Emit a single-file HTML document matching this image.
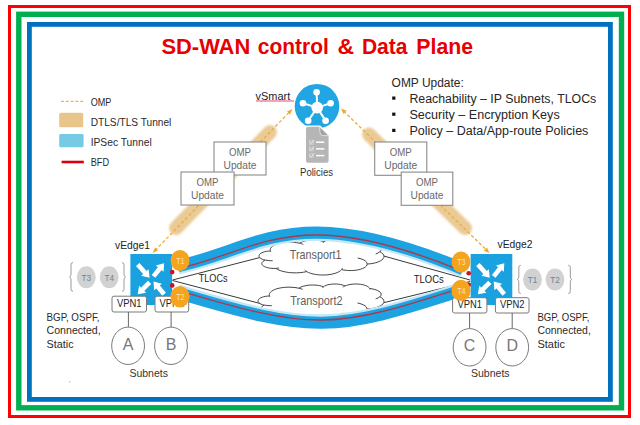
<!DOCTYPE html>
<html><head><meta charset="utf-8"><title>SD-WAN control &amp; Data Plane</title>
<style>html,body{margin:0;padding:0;background:#fff;width:640px;height:425px;overflow:hidden}svg{display:block;font-family:"Liberation Sans",sans-serif}</style>
</head><body>
<svg width="640" height="425" viewBox="0 0 640 425">
<defs>
<filter id="bl1" x="-20%" y="-20%" width="140%" height="140%"><feGaussianBlur stdDeviation="0.5"/></filter>
<filter id="bl2" x="-20%" y="-20%" width="140%" height="140%"><feGaussianBlur stdDeviation="1.1"/></filter>
</defs>
<rect width="640" height="425" fill="#fff"/>
<rect x="9.5" y="6.5" width="620" height="410" fill="none" stroke="#ff0000" stroke-width="3"/>
<rect x="18.8" y="14.3" width="602.7" height="393.5" fill="none" stroke="#00b050" stroke-width="5.4"/>
<rect x="29.4" y="24.4" width="581" height="375" fill="none" stroke="#0070c0" stroke-width="4.8"/>
<text x="161.4" y="54.2" font-size="21.3" fill="#e80000" font-weight="bold" text-anchor="start" font-family="Liberation Sans" textLength="88.9" lengthAdjust="spacingAndGlyphs">SD-WAN</text>
<text x="257.8" y="54.2" font-size="21.3" fill="#e80000" font-weight="bold" text-anchor="start" font-family="Liberation Sans" textLength="70.95" lengthAdjust="spacingAndGlyphs">control</text>
<text x="337.4" y="54.2" font-size="21.3" fill="#e80000" font-weight="bold" text-anchor="start" font-family="Liberation Sans" textLength="16.6" lengthAdjust="spacingAndGlyphs">&amp;</text>
<text x="361.9" y="54.2" font-size="21.3" fill="#e80000" font-weight="bold" text-anchor="start" font-family="Liberation Sans" textLength="45.6" lengthAdjust="spacingAndGlyphs">Data</text>
<text x="416.3" y="54.2" font-size="21.3" fill="#e80000" font-weight="bold" text-anchor="start" font-family="Liberation Sans" textLength="56.8" lengthAdjust="spacingAndGlyphs">Plane</text>
<line x1="61" y1="101.4" x2="84" y2="101.4" stroke="#f3b54a" stroke-width="1.3" stroke-dasharray="3 1.8"/>
<text x="90.7" y="105.6" font-size="10.2" fill="#2a2a2a" font-weight="normal" text-anchor="start" font-family="Liberation Sans" textLength="20.7" lengthAdjust="spacingAndGlyphs">OMP</text>
<rect x="59.2" y="112.7" width="24" height="14.6" rx="1.5" fill="#e8c58a" filter="url(#bl1)"/>
<text x="90.7" y="125.6" font-size="10.2" fill="#2a2a2a" font-weight="normal" text-anchor="start" font-family="Liberation Sans" textLength="80.7" lengthAdjust="spacingAndGlyphs">DTLS/TLS Tunnel</text>
<rect x="59.2" y="134" width="24.4" height="13.3" rx="1.5" fill="#77cae3" filter="url(#bl1)"/>
<text x="90.7" y="146" font-size="10.2" fill="#2a2a2a" font-weight="normal" text-anchor="start" font-family="Liberation Sans" textLength="61" lengthAdjust="spacingAndGlyphs">IPSec Tunnel</text>
<line x1="61.6" y1="162" x2="83.8" y2="162" stroke="#d80010" stroke-width="2.6"/>
<text x="90.7" y="165.6" font-size="10.2" fill="#2a2a2a" font-weight="normal" text-anchor="start" font-family="Liberation Sans" textLength="18.3" lengthAdjust="spacingAndGlyphs">BFD</text>
<text x="391.6" y="86.5" font-size="12" fill="#262626" font-weight="normal" text-anchor="start" font-family="Liberation Sans" textLength="72.2" lengthAdjust="spacingAndGlyphs">OMP Update:</text>
<rect x="392.2" y="96.5" width="3.2" height="3.2" fill="#111"/>
<text x="409.4" y="102.5" font-size="12" fill="#262626" font-weight="normal" text-anchor="start" font-family="Liberation Sans" textLength="186.9" lengthAdjust="spacingAndGlyphs">Reachability – IP Subnets, TLOCs</text>
<rect x="392.2" y="112.6" width="3.2" height="3.2" fill="#111"/>
<text x="409.4" y="118.6" font-size="12" fill="#262626" font-weight="normal" text-anchor="start" font-family="Liberation Sans" textLength="150.3" lengthAdjust="spacingAndGlyphs">Security – Encryption Keys</text>
<rect x="392.2" y="128.8" width="3.2" height="3.2" fill="#111"/>
<text x="409.4" y="134.8" font-size="12" fill="#262626" font-weight="normal" text-anchor="start" font-family="Liberation Sans" textLength="179" lengthAdjust="spacingAndGlyphs">Policy – Data/App-route Policies</text>
<g filter="url(#bl2)" opacity="0.9">
<line x1="176" y1="228" x2="270" y2="132" stroke="#e8c58a" stroke-width="14" stroke-linecap="round"/>
<line x1="369" y1="134.5" x2="465" y2="228" stroke="#e8c58a" stroke-width="14" stroke-linecap="round"/>
</g>
<line x1="155" y1="250.5" x2="290" y2="111.5" stroke="#eeaa38" stroke-width="1.25" stroke-dasharray="3.2 2.2"/>
<line x1="343.5" y1="111" x2="487" y2="250.5" stroke="#eeaa38" stroke-width="1.25" stroke-dasharray="3.2 2.2"/>
<polygon points="152.7,252.9 154.94,247.42 158.1,250.47" fill="#eda632"/>
<polygon points="292.4,109.1 290.14,114.58 286.99,111.51" fill="#eda632"/>
<polygon points="341.1,108.6 346.58,110.86 343.51,114.01" fill="#eda632"/>
<polygon points="489.4,252.9 483.93,250.64 487,247.49" fill="#eda632"/>
<rect x="214" y="142" width="52" height="33" fill="#fff" stroke="#8a8a8a" stroke-width="1.1"/><text x="240" y="155.7" font-size="10.5" fill="#6a6a6a" font-weight="normal" text-anchor="middle" font-family="Liberation Sans" textLength="22" lengthAdjust="spacingAndGlyphs">OMP</text><text x="240" y="169" font-size="10.5" fill="#6a6a6a" font-weight="normal" text-anchor="middle" font-family="Liberation Sans" textLength="33" lengthAdjust="spacingAndGlyphs">Update</text>
<rect x="181" y="172" width="53" height="33" fill="#fff" stroke="#8a8a8a" stroke-width="1.1"/><text x="207.5" y="185.7" font-size="10.5" fill="#6a6a6a" font-weight="normal" text-anchor="middle" font-family="Liberation Sans" textLength="22" lengthAdjust="spacingAndGlyphs">OMP</text><text x="207.5" y="199" font-size="10.5" fill="#6a6a6a" font-weight="normal" text-anchor="middle" font-family="Liberation Sans" textLength="33" lengthAdjust="spacingAndGlyphs">Update</text>
<rect x="374.7" y="142" width="52.1" height="33.3" fill="#fff" stroke="#8a8a8a" stroke-width="1.1"/><text x="400.75" y="155.7" font-size="10.5" fill="#6a6a6a" font-weight="normal" text-anchor="middle" font-family="Liberation Sans" textLength="22" lengthAdjust="spacingAndGlyphs">OMP</text><text x="400.75" y="169" font-size="10.5" fill="#6a6a6a" font-weight="normal" text-anchor="middle" font-family="Liberation Sans" textLength="33" lengthAdjust="spacingAndGlyphs">Update</text>
<rect x="401.2" y="172.1" width="51.6" height="33.2" fill="#fff" stroke="#8a8a8a" stroke-width="1.1"/><text x="427" y="185.8" font-size="10.5" fill="#6a6a6a" font-weight="normal" text-anchor="middle" font-family="Liberation Sans" textLength="22" lengthAdjust="spacingAndGlyphs">OMP</text><text x="427" y="199.1" font-size="10.5" fill="#6a6a6a" font-weight="normal" text-anchor="middle" font-family="Liberation Sans" textLength="33" lengthAdjust="spacingAndGlyphs">Update</text>
<circle cx="317" cy="106.2" r="22.3" fill="#21a6e3"/>
<line x1="317.2" y1="107.6" x2="316.6" y2="92.3" stroke="#fff" stroke-width="2"/>
<circle cx="316.6" cy="92.3" r="3.3" fill="#fff"/>
<line x1="317.2" y1="107.6" x2="303" y2="103.3" stroke="#fff" stroke-width="2"/>
<circle cx="303" cy="103.3" r="3.3" fill="#fff"/>
<line x1="317.2" y1="107.6" x2="330.6" y2="103.3" stroke="#fff" stroke-width="2"/>
<circle cx="330.6" cy="103.3" r="3.3" fill="#fff"/>
<line x1="317.2" y1="107.6" x2="308.2" y2="120.8" stroke="#fff" stroke-width="2"/>
<circle cx="308.2" cy="120.8" r="3.3" fill="#fff"/>
<line x1="317.2" y1="107.6" x2="325.6" y2="120.8" stroke="#fff" stroke-width="2"/>
<circle cx="325.6" cy="120.8" r="3.3" fill="#fff"/>
<circle cx="317.2" cy="107.6" r="5.8" fill="#fff"/>
<text x="255.5" y="99.5" font-size="11" fill="#222" font-weight="normal" text-anchor="start" font-family="Liberation Sans" textLength="34.7" lengthAdjust="spacingAndGlyphs">vSmart</text>
<path d="M256 101.4 l1 -0.8 l1 0.8 l1 -0.8 l1 0.8 l1 -0.8 l1 0.8 l1 -0.8 l1 0.8 l1 -0.8 l1 0.8 l1 -0.8 l1 0.8 l1 -0.8 l1 0.8 l1 -0.8 l1 0.8 l1 -0.8 l1 0.8 l1 -0.8 l1 0.8 l1 -0.8 l1 0.8 l1 -0.8 l1 0.8 l1 -0.8 l1 0.8 l1 -0.8 l1 0.8 l1 -0.8 l1 0.8 l1 -0.8 l1 0.8 l1 -0.8 l1 0.8 l1 -0.8 l1 0.8 l1 -0.8 l1 0.8" fill="none" stroke="#e03a55" stroke-width="0.9"/>
<path d="M308 126.8 H319.6 L328.6 135.6 V160.7 Q328.6 162.7 326.6 162.7 H308 Q306 162.7 306 160.7 V128.8 Q306 126.8 308 126.8 Z" fill="#fff" stroke="#fff" stroke-width="2.6"/>
<path d="M308 126.8 H319.6 L328.6 135.6 V160.7 Q328.6 162.7 326.6 162.7 H308 Q306 162.7 306 160.7 V128.8 Q306 126.8 308 126.8 Z" fill="#b6b6b6"/>
<path d="M319.6 126.8 Q319.8 134 321 135 Q322 135.8 328.6 135.6 Z" fill="#a2a2a2" stroke="#f4f4f4" stroke-width="0.7"/>
<line x1="316" y1="142.2" x2="324.3" y2="142.2" stroke="#fff" stroke-width="1.5"/>
<path d="M310 141.9 l1.4 1.6 l2.6 -3.4" fill="none" stroke="#f2f2f2" stroke-width="0.9"/>
<rect x="309.6" y="140.4" width="3.8" height="3.8" fill="none" stroke="#dcdcdc" stroke-width="0.6"/>
<line x1="316" y1="148.9" x2="324.3" y2="148.9" stroke="#fff" stroke-width="1.5"/>
<path d="M310 148.6 l1.4 1.6 l2.6 -3.4" fill="none" stroke="#f2f2f2" stroke-width="0.9"/>
<rect x="309.6" y="147.1" width="3.8" height="3.8" fill="none" stroke="#dcdcdc" stroke-width="0.6"/>
<line x1="316" y1="155.6" x2="324.3" y2="155.6" stroke="#fff" stroke-width="1.5"/>
<path d="M310 155.3 l1.4 1.6 l2.6 -3.4" fill="none" stroke="#f2f2f2" stroke-width="0.9"/>
<rect x="309.6" y="153.8" width="3.8" height="3.8" fill="none" stroke="#dcdcdc" stroke-width="0.6"/>
<text x="300" y="175.7" font-size="10.5" fill="#333" font-weight="normal" text-anchor="start" font-family="Liberation Sans" textLength="33" lengthAdjust="spacingAndGlyphs">Policies</text>
<path d="M172.5 280 L260 257.5" stroke="#3a3a3a" stroke-width="1" fill="none"/>
<path d="M172.5 280.5 L262 304" stroke="#3a3a3a" stroke-width="1" fill="none"/>
<path d="M470 280 L383.3 255.9" stroke="#3a3a3a" stroke-width="1" fill="none"/>
<path d="M470 281.5 L383.3 302.8" stroke="#3a3a3a" stroke-width="1" fill="none"/>
<path d="M270.36 250.86 L270.18 249.64 L270.51 248.42 L271.32 247.24 L272.6 246.13 L274.32 245.11 L276.42 244.21 L278.87 243.45 L281.59 242.86 L284.52 242.44 L287.57 242.21 L290.69 242.18 L293.77 242.34 L296.76 242.69 L299.56 243.22 L300.84 242.43 L302.42 241.72 L304.25 241.12 L306.3 240.64 L308.51 240.29 L310.83 240.07 L313.21 240 L315.59 240.08 L317.91 240.3 L320.12 240.65 L322.16 241.14 L323.99 241.74 L325 241.08 L326.26 240.49 L327.74 239.98 L329.4 239.57 L331.21 239.26 L333.11 239.07 L335.07 239 L337.03 239.05 L338.95 239.21 L340.78 239.5 L342.48 239.89 L344 240.37 L345.31 240.95 L346.79 240.36 L348.49 239.87 L350.35 239.48 L352.34 239.2 L354.42 239.04 L356.53 239.01 L358.63 239.1 L360.67 239.32 L362.61 239.65 L364.39 240.09 L365.99 240.63 L367.36 241.26 L368.47 241.97 L369.3 242.73 L369.83 243.53 L372.09 243.85 L374.19 244.3 L376.09 244.87 L377.74 245.55 L379.1 246.33 L380.14 247.17 L380.84 248.07 L381.17 249.01 L381.13 249.95 L380.72 250.88 L379.95 251.77 L381.65 252.8 L382.92 253.93 L383.71 255.12 L384 256.34 L383.79 257.57 L383.09 258.77 L381.9 259.91 L380.27 260.96 L378.24 261.89 L375.84 262.69 L373.16 263.33 L370.25 263.78 L367.19 264.06 L366.98 265.04 L366.39 266.01 L365.44 266.93 L364.14 267.78 L362.53 268.55 L360.64 269.21 L358.52 269.75 L356.22 270.16 L353.78 270.43 L351.27 270.55 L348.74 270.52 L346.25 270.35 L343.86 270.03 L341.62 269.57 L340.56 270.64 L339.1 271.65 L337.28 272.55 L335.13 273.34 L332.7 273.99 L330.06 274.49 L327.25 274.83 L324.35 275 L321.42 275 L318.51 274.82 L315.71 274.47 L313.08 273.97 L310.66 273.31 L308.53 272.52 L306.72 271.61 L303.54 272.23 L300.15 272.65 L296.64 272.85 L293.09 272.82 L289.6 272.58 L286.25 272.12 L283.12 271.46 L280.31 270.61 L277.86 269.6 L275.86 268.45 L273.94 268.48 L272.03 268.39 L270.18 268.2 L268.43 267.89 L266.81 267.49 L265.37 266.99 L264.14 266.41 L263.14 265.77 L262.41 265.08 L261.96 264.35 L261.79 263.6 L261.92 262.85 L262.33 262.11 L263.03 261.41 L263.99 260.76 L265.19 260.18 L263.58 259.73 L262.16 259.19 L260.97 258.58 L260.04 257.89 L259.39 257.16 L259.04 256.4 L259 255.62 L259.26 254.85 L259.83 254.11 L260.68 253.41 L261.8 252.77 L263.16 252.21 L264.73 251.74 L266.46 251.37 L268.31 251.11 L270.25 250.97 Z" fill="#fff" stroke="#444" stroke-width="1"/>
<path d="M272.65 260.7 L270.74 260.7 L268.86 260.59 L267.04 260.37 L265.33 260.04 M279.11 267.97 L278.33 268.08 L277.53 268.17 L276.72 268.24 L275.9 268.29 M306.71 271.46 L306.15 271.12 L305.65 270.76 L305.19 270.39 L304.78 270.01 M342.4 267.85 L342.29 268.25 L342.12 268.65 L341.9 269.05 L341.63 269.44 M357.73 258.01 L360.04 258.55 L362.1 259.22 L363.86 260.02 L365.28 260.91 L366.31 261.89 L366.93 262.91 L367.12 263.96 M379.89 251.68 L379.1 252.3 L378.13 252.89 L376.99 253.43 L375.71 253.91 M369.85 243.4 L369.95 243.67 L370.03 243.93 L370.06 244.19 L370.07 244.46 M343.13 242.18 L343.57 241.82 L344.07 241.47 L344.64 241.14 L345.27 240.83 M323.08 242.82 L323.27 242.52 L323.5 242.22 L323.79 241.94 L324.12 241.66 M299.55 243.21 L300.55 243.46 L301.51 243.73 L302.43 244.02 L303.3 244.33 M271.01 252.04 L270.8 251.75 L270.62 251.46 L270.47 251.16 L270.36 250.86" fill="none" stroke="#444" stroke-width="1"/>
<path d="M269.45 295.86 L269.27 294.64 L269.6 293.42 L270.42 292.24 L271.71 291.13 L273.44 290.11 L275.56 289.21 L278.03 288.45 L280.77 287.86 L283.72 287.44 L286.8 287.21 L289.94 287.18 L293.05 287.34 L296.06 287.69 L298.89 288.22 L300.18 287.43 L301.76 286.72 L303.61 286.12 L305.68 285.64 L307.9 285.29 L310.25 285.07 L312.65 285 L315.04 285.08 L317.38 285.3 L319.61 285.65 L321.67 286.14 L323.51 286.74 L324.53 286.08 L325.8 285.49 L327.29 284.98 L328.97 284.57 L330.79 284.26 L332.71 284.07 L334.68 284 L336.66 284.05 L338.59 284.21 L340.43 284.5 L342.14 284.89 L343.68 285.37 L345 285.95 L346.49 285.36 L348.2 284.87 L350.08 284.48 L352.09 284.2 L354.18 284.04 L356.31 284.01 L358.43 284.1 L360.48 284.32 L362.43 284.65 L364.23 285.09 L365.84 285.63 L367.23 286.26 L368.35 286.97 L369.19 287.73 L369.72 288.53 L371.99 288.85 L374.11 289.3 L376.02 289.87 L377.69 290.55 L379.06 291.33 L380.11 292.17 L380.81 293.07 L381.15 294.01 L381.11 294.95 L380.69 295.88 L379.92 296.77 L381.64 297.8 L382.91 298.93 L383.7 300.12 L384 301.34 L383.79 302.57 L383.08 303.77 L381.89 304.91 L380.24 305.96 L378.19 306.89 L375.78 307.69 L373.07 308.33 L370.14 308.78 L367.06 309.06 L366.84 310.04 L366.25 311.01 L365.29 311.93 L363.98 312.78 L362.36 313.55 L360.46 314.21 L358.32 314.75 L356 315.16 L353.54 315.43 L351.01 315.55 L348.46 315.52 L345.95 315.35 L343.54 315.03 L341.28 314.57 L340.21 315.64 L338.74 316.65 L336.9 317.55 L334.74 318.34 L332.29 318.99 L329.63 319.49 L326.8 319.83 L323.87 320 L320.91 320 L317.99 319.82 L315.17 319.47 L312.51 318.97 L310.08 318.31 L307.92 317.52 L306.1 316.61 L302.9 317.23 L299.48 317.65 L295.94 317.85 L292.37 317.82 L288.85 317.58 L285.47 317.12 L282.32 316.46 L279.48 315.61 L277.01 314.6 L275 313.45 L273.06 313.48 L271.14 313.39 L269.27 313.2 L267.5 312.89 L265.87 312.49 L264.42 311.99 L263.18 311.41 L262.18 310.77 L261.44 310.08 L260.98 309.35 L260.81 308.6 L260.94 307.85 L261.36 307.11 L262.06 306.41 L263.03 305.76 L264.24 305.18 L262.61 304.73 L261.18 304.19 L259.98 303.58 L259.05 302.89 L258.4 302.16 L258.04 301.4 L258 300.62 L258.27 299.85 L258.84 299.11 L259.7 298.41 L260.83 297.77 L262.2 297.21 L263.77 296.74 L265.52 296.37 L267.39 296.11 L269.34 295.97 Z" fill="#fff" stroke="#444" stroke-width="1"/>
<path d="M271.76 305.7 L269.84 305.7 L267.94 305.59 L266.1 305.37 L264.38 305.04 M278.27 312.97 L277.48 313.08 L276.68 313.17 L275.86 313.24 L275.04 313.29 M306.09 316.46 L305.53 316.12 L305.02 315.76 L304.56 315.39 L304.15 315.01 M342.07 312.85 L341.96 313.25 L341.79 313.65 L341.57 314.05 L341.29 314.44 M357.52 303.01 L359.85 303.55 L361.93 304.22 L363.7 305.02 L365.13 305.91 L366.17 306.89 L366.79 307.91 L366.99 308.96 M379.86 296.68 L379.06 297.3 L378.08 297.89 L376.94 298.43 L375.64 298.91 M369.74 288.4 L369.84 288.67 L369.91 288.93 L369.95 289.19 L369.96 289.46 M342.8 287.18 L343.24 286.82 L343.75 286.47 L344.33 286.14 L344.96 285.83 M322.59 287.82 L322.78 287.52 L323.02 287.22 L323.31 286.94 L323.64 286.66 M298.87 288.21 L299.88 288.46 L300.85 288.73 L301.78 289.02 L302.66 289.33 M270.11 297.04 L269.9 296.75 L269.72 296.46 L269.57 296.16 L269.45 295.86" fill="none" stroke="#444" stroke-width="1"/>
<text x="289.8" y="259.2" font-size="13" fill="#5f5f5f" font-weight="normal" text-anchor="start" font-family="Liberation Sans" textLength="51.7" lengthAdjust="spacingAndGlyphs">Transport1</text>
<text x="290.3" y="304.8" font-size="13" fill="#5f5f5f" font-weight="normal" text-anchor="start" font-family="Liberation Sans" textLength="52.3" lengthAdjust="spacingAndGlyphs">Transport2</text>
<path d="M178 268.1 C259.9 250.7 293.9 200.85 463 271.1" fill="none" stroke="#c4e7f7" stroke-width="12.6"/>
<path d="M178 266 C259.9 248.6 293.9 198.75 463 269" fill="none" stroke="#1ea3e2" stroke-width="12.2"/>
<path d="M178 268.5 C259.9 251.1 293.9 201.25 463 271.5" fill="none" stroke="#a83a4a" stroke-width="1.4"/>
<path d="M178 290.9 C313.8 331.4 331.7 330.7 463 287.9" fill="none" stroke="#c4e7f7" stroke-width="12.6"/>
<path d="M178 293 C313.8 333.5 331.7 332.8 463 290" fill="none" stroke="#1ea3e2" stroke-width="12.2"/>
<path d="M178 290.3 C313.8 330.8 331.7 330.1 463 287.3" fill="none" stroke="#a83a4a" stroke-width="1.4"/>
<text x="198.75" y="282" font-size="10.5" fill="#222" font-weight="normal" text-anchor="start" font-family="Liberation Sans" textLength="28.75" lengthAdjust="spacingAndGlyphs">TLOCs</text>
<text x="413.75" y="282.5" font-size="10.5" fill="#222" font-weight="normal" text-anchor="start" font-family="Liberation Sans" textLength="30" lengthAdjust="spacingAndGlyphs">TLOCs</text>
<rect x="130.4" y="254" width="41.7" height="51" fill="#1aa2e0"/><line x1="137.7" y1="264.5" x2="145.25" y2="272.87" stroke="#fff" stroke-width="4.6"/><polygon points="149.6,277.7 141.2,275.85 148.63,269.15" fill="#fff"/><line x1="153.5" y1="276.4" x2="160.03" y2="268.27" stroke="#fff" stroke-width="4.6"/><polygon points="164.1,263.2 163.62,271.79 155.82,265.53" fill="#fff"/><line x1="149.6" y1="282.3" x2="142.3" y2="289.6" stroke="#fff" stroke-width="4.6"/><polygon points="137.7,294.2 139.11,285.71 146.19,292.79" fill="#fff"/><line x1="164.1" y1="294.2" x2="157.68" y2="286.57" stroke="#fff" stroke-width="4.6"/><polygon points="153.5,281.6 161.83,283.74 154.18,290.18" fill="#fff"/>
<rect x="470.6" y="254" width="41.7" height="51" fill="#1aa2e0"/><line x1="477.9" y1="264.5" x2="485.45" y2="272.87" stroke="#fff" stroke-width="4.6"/><polygon points="489.8,277.7 481.4,275.85 488.83,269.15" fill="#fff"/><line x1="493.7" y1="276.4" x2="500.23" y2="268.27" stroke="#fff" stroke-width="4.6"/><polygon points="504.3,263.2 503.82,271.79 496.02,265.53" fill="#fff"/><line x1="489.8" y1="282.3" x2="482.5" y2="289.6" stroke="#fff" stroke-width="4.6"/><polygon points="477.9,294.2 479.31,285.71 486.39,292.79" fill="#fff"/><line x1="504.3" y1="294.2" x2="497.88" y2="286.57" stroke="#fff" stroke-width="4.6"/><polygon points="493.7,281.6 502.03,283.74 494.38,290.18" fill="#fff"/>
<circle cx="172.2" cy="272.1" r="2.3" fill="#d0101c"/>
<circle cx="172.2" cy="285.4" r="2.3" fill="#d0101c"/>
<circle cx="468.7" cy="273.3" r="2.3" fill="#d0101c"/>
<circle cx="468.7" cy="284.8" r="2.3" fill="#d0101c"/>
<ellipse cx="180" cy="260.5" rx="9.4" ry="10.6" fill="#f5a41f"/>
<text x="180.3" y="263.9" font-size="8.5" fill="#fde2b5" font-weight="normal" text-anchor="middle" font-family="Liberation Sans" textLength="8.3" lengthAdjust="spacingAndGlyphs">T1</text>
<ellipse cx="180" cy="296.8" rx="9.4" ry="10.6" fill="#f5a41f"/>
<text x="180.3" y="300.2" font-size="8.5" fill="#fde2b5" font-weight="normal" text-anchor="middle" font-family="Liberation Sans" textLength="8.3" lengthAdjust="spacingAndGlyphs">T2</text>
<ellipse cx="461" cy="262" rx="9.4" ry="10.6" fill="#f5a41f"/>
<text x="461.3" y="265.4" font-size="8.5" fill="#fde2b5" font-weight="normal" text-anchor="middle" font-family="Liberation Sans" textLength="8.3" lengthAdjust="spacingAndGlyphs">T3</text>
<ellipse cx="461" cy="290.5" rx="9.4" ry="10.6" fill="#f5a41f"/>
<text x="461.3" y="293.9" font-size="8.5" fill="#fde2b5" font-weight="normal" text-anchor="middle" font-family="Liberation Sans" textLength="8.3" lengthAdjust="spacingAndGlyphs">T4</text>
<ellipse cx="86.3" cy="277.3" rx="9.4" ry="11" fill="#d2d2d2"/>
<text x="86.3" y="280.6" font-size="9.5" fill="#6f8396" font-weight="normal" text-anchor="middle" font-family="Liberation Sans" textLength="9.5" lengthAdjust="spacingAndGlyphs">T3</text>
<ellipse cx="109.2" cy="277.3" rx="9.4" ry="11" fill="#d2d2d2"/>
<text x="109.2" y="280.6" font-size="9.5" fill="#6f8396" font-weight="normal" text-anchor="middle" font-family="Liberation Sans" textLength="9.5" lengthAdjust="spacingAndGlyphs">T4</text>
<ellipse cx="532.5" cy="279.5" rx="9.4" ry="11" fill="#d2d2d2"/>
<text x="532.5" y="282.8" font-size="9.5" fill="#6f8396" font-weight="normal" text-anchor="middle" font-family="Liberation Sans" textLength="9.5" lengthAdjust="spacingAndGlyphs">T1</text>
<ellipse cx="555" cy="279.5" rx="9.4" ry="11" fill="#d2d2d2"/>
<text x="555" y="282.8" font-size="9.5" fill="#6f8396" font-weight="normal" text-anchor="middle" font-family="Liberation Sans" textLength="9.5" lengthAdjust="spacingAndGlyphs">T2</text>
<path d="M73 262.6 q-2 0 -2 2 v9.85 q0 2 -1.5 2.5 q1.5 0.5 1.5 2.5 v9.85 q0 2 2 2" fill="none" stroke="#9a9a9a" stroke-width="1"/>
<path d="M122 262.6 q2 0 2 2 v9.85 q0 2 1.5 2.5 q-1.5 0.5 -1.5 2.5 v9.85 q0 2 -2 2" fill="none" stroke="#9a9a9a" stroke-width="1"/>
<path d="M520.8 265.3 q-2 0 -2 2 v9.6 q0 2 -1.5 2.5 q1.5 0.5 1.5 2.5 v9.6 q0 2 2 2" fill="none" stroke="#9a9a9a" stroke-width="1"/>
<path d="M568.3 265.3 q2 0 2 2 v9.6 q0 2 1.5 2.5 q-1.5 0.5 -1.5 2.5 v9.6 q0 2 -2 2" fill="none" stroke="#9a9a9a" stroke-width="1"/>
<rect x="112" y="296.2" width="34.5" height="15.8" rx="2" fill="#fff" stroke="#7a7a7a" stroke-width="1"/><text x="129.25" y="307.4" font-size="11" fill="#222" font-weight="normal" text-anchor="middle" font-family="Liberation Sans" textLength="24.6" lengthAdjust="spacingAndGlyphs">VPN1</text>
<rect x="155" y="296.2" width="33.7" height="15.8" rx="2" fill="#fff" stroke="#7a7a7a" stroke-width="1"/><text x="171.85" y="307.4" font-size="11" fill="#222" font-weight="normal" text-anchor="middle" font-family="Liberation Sans" textLength="24.6" lengthAdjust="spacingAndGlyphs">VPN2</text>
<rect x="452.6" y="297.7" width="34.3" height="15.3" rx="2" fill="#fff" stroke="#7a7a7a" stroke-width="1"/><text x="469.75" y="308.4" font-size="11" fill="#222" font-weight="normal" text-anchor="middle" font-family="Liberation Sans" textLength="24.6" lengthAdjust="spacingAndGlyphs">VPN1</text>
<rect x="495.4" y="297.7" width="33.6" height="15.3" rx="2" fill="#fff" stroke="#7a7a7a" stroke-width="1"/><text x="512.2" y="308.4" font-size="11" fill="#222" font-weight="normal" text-anchor="middle" font-family="Liberation Sans" textLength="24.6" lengthAdjust="spacingAndGlyphs">VPN2</text>
<ellipse cx="180" cy="296.8" rx="9.4" ry="10.6" fill="#f5a41f"/>
<text x="180.3" y="300.2" font-size="8.5" fill="#fde2b5" font-weight="normal" text-anchor="middle" font-family="Liberation Sans" textLength="8.3" lengthAdjust="spacingAndGlyphs">T2</text>
<ellipse cx="461" cy="290.5" rx="9.4" ry="10.6" fill="#f5a41f"/>
<text x="461.3" y="293.9" font-size="8.5" fill="#fde2b5" font-weight="normal" text-anchor="middle" font-family="Liberation Sans" textLength="8.3" lengthAdjust="spacingAndGlyphs">T4</text>
<line x1="128.4" y1="312" x2="128.4" y2="327" stroke="#666" stroke-width="1"/>
<line x1="171.1" y1="312" x2="171.1" y2="327" stroke="#666" stroke-width="1"/>
<line x1="469.6" y1="313" x2="469.6" y2="328.6" stroke="#666" stroke-width="1"/>
<line x1="512.2" y1="313" x2="512.2" y2="328.6" stroke="#666" stroke-width="1"/>
<ellipse cx="128.1" cy="345.8" rx="16.4" ry="18.7" fill="#fff" stroke="#7a7a7a" stroke-width="1"/>
<text x="128.1" y="349.7" font-size="16" fill="#777" font-weight="normal" text-anchor="middle" font-family="Liberation Sans">A</text>
<ellipse cx="171" cy="345.8" rx="16.4" ry="18.7" fill="#fff" stroke="#7a7a7a" stroke-width="1"/>
<text x="171" y="349.7" font-size="16" fill="#777" font-weight="normal" text-anchor="middle" font-family="Liberation Sans">B</text>
<ellipse cx="469.6" cy="347.3" rx="16.4" ry="18.7" fill="#fff" stroke="#7a7a7a" stroke-width="1"/>
<text x="469.6" y="351.2" font-size="16" fill="#777" font-weight="normal" text-anchor="middle" font-family="Liberation Sans">C</text>
<ellipse cx="512.2" cy="347.3" rx="16.4" ry="18.7" fill="#fff" stroke="#7a7a7a" stroke-width="1"/>
<text x="512.2" y="351.2" font-size="16" fill="#777" font-weight="normal" text-anchor="middle" font-family="Liberation Sans">D</text>
<text x="129.4" y="377" font-size="10.5" fill="#333" font-weight="normal" text-anchor="start" font-family="Liberation Sans" textLength="38.6" lengthAdjust="spacingAndGlyphs">Subnets</text>
<text x="471" y="377.3" font-size="10.5" fill="#333" font-weight="normal" text-anchor="start" font-family="Liberation Sans" textLength="38.6" lengthAdjust="spacingAndGlyphs">Subnets</text>
<text x="46.6" y="321.1" font-size="11" fill="#2a2a2a" font-weight="normal" text-anchor="start" font-family="Liberation Sans" textLength="52.9" lengthAdjust="spacingAndGlyphs">BGP, OSPF,</text>
<text x="46.6" y="334" font-size="11" fill="#2a2a2a" font-weight="normal" text-anchor="start" font-family="Liberation Sans" textLength="54.1" lengthAdjust="spacingAndGlyphs">Connected,</text>
<text x="46.6" y="347.7" font-size="11" fill="#2a2a2a" font-weight="normal" text-anchor="start" font-family="Liberation Sans" textLength="27" lengthAdjust="spacingAndGlyphs">Static</text>
<text x="537.4" y="320.6" font-size="11" fill="#2a2a2a" font-weight="normal" text-anchor="start" font-family="Liberation Sans" textLength="52.1" lengthAdjust="spacingAndGlyphs">BGP, OSPF,</text>
<text x="537.4" y="333.5" font-size="11" fill="#2a2a2a" font-weight="normal" text-anchor="start" font-family="Liberation Sans" textLength="53.4" lengthAdjust="spacingAndGlyphs">Connected,</text>
<text x="537.4" y="347.7" font-size="11" fill="#2a2a2a" font-weight="normal" text-anchor="start" font-family="Liberation Sans" textLength="27.6" lengthAdjust="spacingAndGlyphs">Static</text>
<circle cx="69.8" cy="381.9" r="0.8" fill="#c8c8c8"/>
<text x="115" y="248.75" font-size="11" fill="#222" font-weight="normal" text-anchor="start" font-family="Liberation Sans" textLength="35" lengthAdjust="spacingAndGlyphs">vEdge1</text>
<text x="497.5" y="248" font-size="11" fill="#222" font-weight="normal" text-anchor="start" font-family="Liberation Sans" textLength="35" lengthAdjust="spacingAndGlyphs">vEdge2</text>
</svg>
</body></html>
